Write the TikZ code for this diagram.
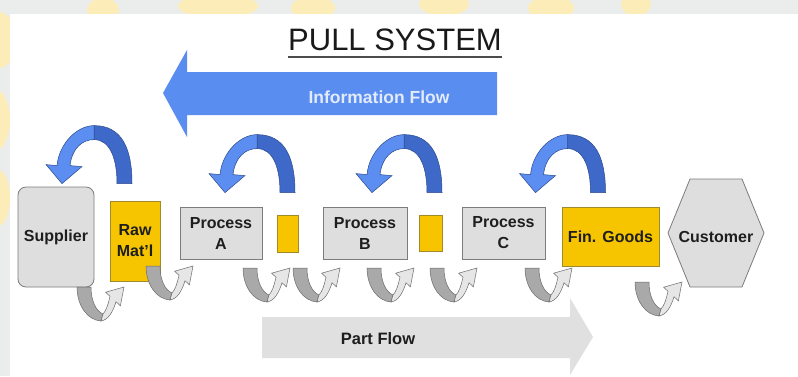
\documentclass[tikz,border=0pt]{standalone}
\usepackage{fontspec}
\setmainfont{Liberation Sans}
\usetikzlibrary{calc}
\definecolor{boxfill}{HTML}{DEDEDE}
\definecolor{boxline}{HTML}{7C7C7C}
\definecolor{stockfill}{HTML}{F6C500}
\definecolor{stockline}{HTML}{A08A2C}
\definecolor{bluelight}{HTML}{5B8EF0}
\definecolor{bluedark}{HTML}{3F69C9}
\definecolor{blueline}{HTML}{2C4A8C}
\definecolor{infoblue}{HTML}{5A8DF0}
\definecolor{infotext}{HTML}{E2EBFC}
\definecolor{partgray}{HTML}{E0E0E0}
\definecolor{graydark}{HTML}{A9A9A9}
\definecolor{graylight}{HTML}{E6E6E6}
\definecolor{grayline}{HTML}{6A6A6A}
\definecolor{textdark}{HTML}{1E1E1E}
\definecolor{framegray}{HTML}{EBEDEC}
\definecolor{wmarkyellow}{HTML}{FCEDB8}
\newcommand{\boxfont}{\bfseries\fontsize{16}{21}\selectfont\color{textdark}}
\tikzset{
  box/.style={draw=boxline, fill=boxfill, line width=0.8pt, inner sep=0pt,
    font=\boxfont, align=center},
  stock/.style={draw=stockline, fill=stockfill, line width=0.8pt, inner sep=0pt,
    font=\boxfont, align=center},
  boxlabel/.style={inner sep=0pt, font=\boxfont, align=center},
  % curved kanban signal: tip of the head at the pic origin
  pics/signal/.style={code={
    \path[draw=blueline, line width=0.5pt, fill=bluedark]
      (55,0) -- (70,0) .. controls (70,-35) and (60,-58) .. (32,-58)
      -- (32,-44) .. controls (48,-44) and (55,-25) .. (55,0) -- cycle;
    \path[draw=blueline, line width=0.5pt, fill=bluelight]
      (32,-58) .. controls (15,-58) and (-3,-40) .. (-5,-18)
      -- (-16,-19) -- (0,0) -- (20,-17) -- (8,-18)
      .. controls (10,-35) and (20,-44) .. (32,-44) -- cycle;
  }},
  % material move: top left corner of the falling leg at the pic origin
  pics/move/.style={code={
    \path[draw=grayline, line width=0.5pt, fill=graydark]
      (0,0) -- (14,0) .. controls (14,14) and (19,24) .. (26,27)
      -- (24,34) .. controls (10,33) and (0,18) .. (0,0) -- cycle;
    \path[draw=grayline, line width=0.5pt, fill=graylight]
      (24,34) .. controls (31,33) and (36,25) .. (39,14.7)
      -- (43.4,18.8) -- (47,0) -- (28.6,5.2) -- (33,9.3)
      .. controls (31,18) and (29,24) .. (26,27) -- cycle;
  }},
}
\begin{document}
\begin{tikzpicture}[x=1pt, y=-1pt]
  % page and frame
  \useasboundingbox (0,0) rectangle (798,376);
  \fill[framegray] (0,0) rectangle (798,376);
  \begin{scope}
    \clip (0,0) rectangle (798,14) (0,0) rectangle (10,376);
    \fill[wmarkyellow] (-10,40) circle[radius=30];
    \fill[wmarkyellow] (-4,120) ellipse[x radius=14, y radius=30];
    \fill[wmarkyellow] (-2,198) ellipse[x radius=12, y radius=28];
    \fill[wmarkyellow] (103,10) ellipse[x radius=16, y radius=12];
    \fill[wmarkyellow] (218,6) ellipse[x radius=40, y radius=12];
    \fill[wmarkyellow] (313,8) ellipse[x radius=22, y radius=12];
    \fill[wmarkyellow] (444,4) ellipse[x radius=25, y radius=12];
    \fill[wmarkyellow] (551,8) ellipse[x radius=23, y radius=12];
    \fill[wmarkyellow] (636,4) ellipse[x radius=15, y radius=12];
  \end{scope}
  \fill[white] (10,14) rectangle (798,376);

  % title
  \node[inner sep=0pt, anchor=base, font=\fontsize{31}{36}\selectfont, text=black!90]
    (title) at (395,50) {PULL SYSTEM};
  \draw[black!70, line width=2.6pt] ($(title.base west)+(0,7)$) -- ($(title.base east)+(0,7)$);

  % information flow
  \fill[infoblue] (497,72) -- (187,72) -- (187,50) -- (163,93) -- (187,137)
    -- (187,115) -- (497,115) -- cycle;
  \node[inner sep=0pt, font=\bfseries\fontsize{17.5}{20}\selectfont, text=infotext]
    (info) at (379,97) {Information Flow};

  % part flow
  \fill[partgray] (262,317) -- (570,317) -- (570,298) -- (593,337) -- (570,375)
    -- (570,358) -- (262,358) -- cycle;
  \node[inner sep=0pt, font=\bfseries\fontsize{16.5}{20}\selectfont, text=textdark]
    (part) at (378,339) {Part Flow};

  % value stream
  \node[box, rounded corners=8pt, minimum width=76pt, minimum height=100pt]
    (supplier) at (56,237) {Supplier};
  \node[stock, minimum width=50pt, minimum height=80pt] (raw) at (135,241) {Raw\\Mat'l};
  \node[box, minimum width=82pt, minimum height=52pt] (procA) at (221,233) {Process\\A};
  \node[stock, minimum width=21pt, minimum height=37pt] (bufA) at (287.5,233.5) {};
  \node[box, minimum width=84pt, minimum height=52pt] (procB) at (365,233) {Process\\B};
  \node[stock, minimum width=23pt, minimum height=36pt] (bufB) at (431,233) {};
  \node[box, minimum width=83pt, minimum height=52pt] (procC) at (503.5,233) {Process\\C};
  \node[stock, minimum width=97pt, minimum height=59pt] (fin) at (610.5,236.5) {Fin. Goods};
  \path[draw=boxline, fill=boxfill, line width=0.8pt]
    (668,233) -- (690,179) -- (742,179) -- (764,233) -- (742,287) -- (690,287) -- cycle;
  \node[boxlabel] (customer) at (716,237) {Customer};

  % kanban signals
  \pic at ($(supplier.north)+(6,-3)$) {signal};
  \pic at ($(procA.north)+(4,-14)$) {signal};
  \pic at ($(procB.north)+(7,-14)$) {signal};
  \pic at ($(procC.north)+(32,-14)$) {signal};

  % material moves
  \pic at (77,287) {move};
  \pic at (146,266) {move};
  \pic at (243,268) {move};
  \pic at (293,268) {move};
  \pic at (367,268) {move};
  \pic at (430,268) {move};
  \pic at (525,268) {move};
  \pic at (635,282) {move};
\end{tikzpicture}
\end{document}
